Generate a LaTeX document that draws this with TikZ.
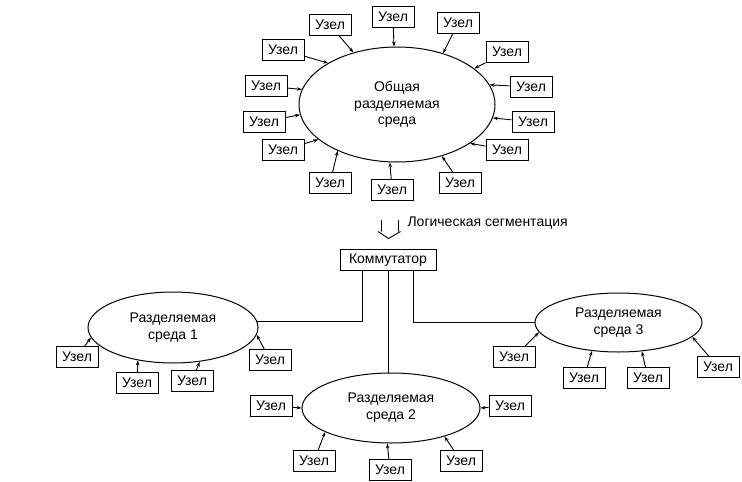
\documentclass[tikz,border=0pt]{standalone}
\usepackage{fontspec}
\setmainfont{Liberation Sans}
\usetikzlibrary{shapes.geometric,arrows.meta}
\begin{document}
\begin{tikzpicture}[x=1pt,y=-1pt,
  every node/.style={font=\fontsize{14}{16.8}\selectfont},
  uzel/.style={draw,line width=1pt,minimum width=42pt,minimum height=21pt,inner sep=0pt},
  sreda/.style={draw,ellipse,line width=1pt,inner sep=0pt,align=center},
  link/.style={line width=0.9pt,-{Stealth[length=5pt,width=3.5pt]}},
  wire/.style={line width=1pt}]
\useasboundingbox (0,0) rectangle (742,482);

% top shared medium
\node[sreda,minimum width=196pt,minimum height=115pt] (e0) at (397,104.5) {Общая\\разделяемая\\среда};
\foreach \n/\x/\y/\a in {01/393/17/93.8, 02/330/25/130, 03/458/23/48.8, 04/283/50/149.3,
  05/507/52/25.7, 06/266/86/171.3, 07/531/87/12.1, 08/264/122/186.2, 09/533/122/352.5,
  10/283/150/204.2, 11/507/150/332.2, 12/330/183/218.8, 13/460/183/311.7, 14/392/190/263.4}{
  \node[uzel] (t\n) at (\x,\y) {Узел};
  \draw[link] (t\n) -- (e0.\a);
}

% logical segmentation arrow
\draw[line width=0.9pt] (381.5,220) -- (381.5,231.5) (398.5,220) -- (398.5,231.5)
  (378,231.5) -- (388.5,238.5) -- (400.5,231.5);
\node[anchor=west] (lbl) at (404,223) {Логическая сегментация};

% switch
\node[uzel,minimum width=96pt] (kom) at (388,260) {Коммутатор};

% segment 1
\node[sreda,minimum width=170pt,minimum height=71pt] (e1) at (173,327.5) {Разделяемая\\среда 1};
\foreach \n/\x/\y/\a in {1/77/357/187.2, 2/137/383/223.3, 3/192/381/308.1, 4/270/360/355.8}{
  \node[uzel] (a\n) at (\x,\y) {Узел};
  \draw[link] (a\n) -- (e1.\a);
}

% segment 2
\node[sreda,minimum width=178pt,minimum height=70pt] (e2) at (391,408) {Разделяемая\\среда 2};
\foreach \n/\x/\y/\a in {1/271/406/180, 2/510/406/0, 3/314/461/200.4, 4/390/470/264.3, 5/461/461/332.6}{
  \node[uzel] (b\n) at (\x,\y) {Узел};
  \draw[link] (b\n) -- (e2.\a);
}

% segment 3
\node[sreda,minimum width=167pt,minimum height=59pt] (e3) at (618.5,322.5) {Разделяемая\\среда 3};
\foreach \n/\x/\y/\a in {1/514/357/187.4, 2/584/378/227, 3/648/378/309.2, 4/718/367/349.3}{
  \node[uzel] (c\n) at (\x,\y) {Узел};
  \draw[link] (c\n) -- (e3.\a);
}

% wires from switch
\draw[wire] ([xshift=-26pt]kom.south) |- (e1.4);
\draw[wire] (kom.south) -- (kom.south |- e2.north);
\draw[wire] ([xshift=25pt]kom.south) |- (e3.west);
\end{tikzpicture}
\end{document}
